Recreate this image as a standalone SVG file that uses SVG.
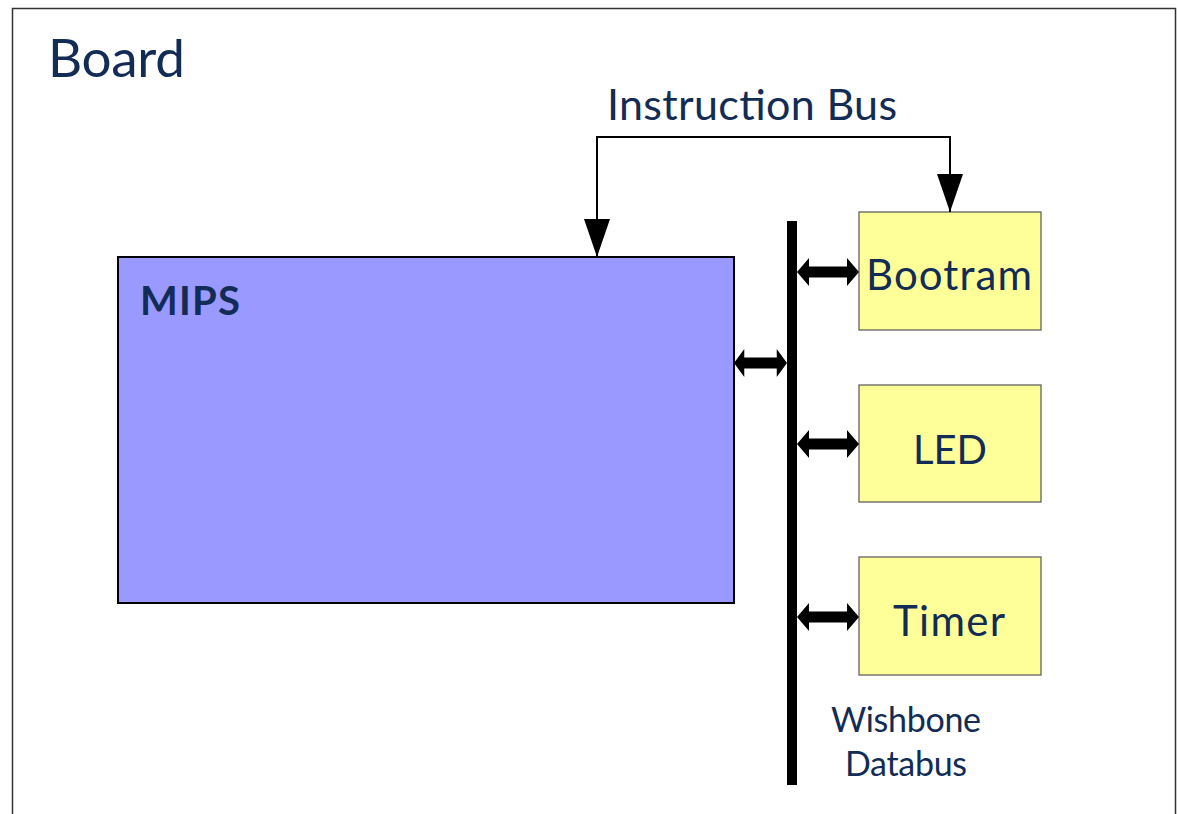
<svg xmlns="http://www.w3.org/2000/svg" width="1178" height="814" viewBox="0 0 1178 814">
  <style>
    .lbl { font-family: Lato, "Open Sans", "Liberation Sans", sans-serif; fill: #122c55; }
    .dev { fill: #ffff99; stroke: #555555; stroke-width: 1.2; }
    .bus { fill: #000000; }
    .wire { fill: none; stroke: #000000; stroke-width: 2; }
  </style>
  <defs>
    <!-- solid triangular head, drawn along +x so orient=auto lines it up -->
    <marker id="tip" viewBox="0 0 38 26" refX="38" refY="13" markerWidth="38" markerHeight="26" markerUnits="userSpaceOnUse" orient="auto-start-reverse">
      <path d="M0,0 L38,13 L0,26 Z" fill="#000000"/>
    </marker>
    <!-- double-headed block arrow, 62 wide, centred on y=0 -->
    <path id="dbl" d="M0,0 L12,-14 L12,-5.5 L50,-5.5 L50,-14 L62,0 L50,14 L50,5.5 L12,5.5 L12,14 Z"/>
  </defs>

  <!-- board outline -->
  <path d="M12.5,814 L12.5,8.5 L1175.5,8.5 L1175.5,814" fill="none" stroke="#333333" stroke-width="1.5"/>
  <text class="lbl" x="48" y="77" font-size="53" textLength="137">Board</text>

  <g id="mips">
    <rect x="118" y="257" width="616" height="346" fill="#9999ff" stroke="#000000" stroke-width="2"/>
    <text class="lbl" x="140" y="315" font-size="40" font-weight="bold" textLength="100">MIPS</text>
  </g>

  <g id="bootram">
    <rect class="dev" x="859" y="212" width="182" height="118"/>
    <text class="lbl" x="866" y="290" font-size="42" textLength="166">Bootram</text>
  </g>

  <g id="led">
    <rect class="dev" x="859" y="385" width="182" height="117"/>
    <text class="lbl" x="950" y="464" font-size="40" text-anchor="middle">LED</text>
  </g>

  <g id="timer">
    <rect class="dev" x="859" y="557" width="182" height="118"/>
    <text class="lbl" x="893" y="636" font-size="42" textLength="112">Timer</text>
  </g>

  <g id="wishbone">
    <rect class="bus" x="787" y="221" width="10" height="564"/>
    <text class="lbl" x="831" y="732" font-size="34" textLength="150">Wishbone</text>
    <text class="lbl" x="845" y="776" font-size="34" textLength="122">Databus</text>
  </g>

  <g id="connectors">
    <path class="wire" d="M597,257 L597,137 L950,137 L950,212" marker-start="url(#tip)" marker-end="url(#tip)"/>
    <text class="lbl" x="607" y="120" font-size="43" textLength="290">Instruction Bus</text>
    <use href="#dbl" transform="translate(734,363) scale(0.855,1)"/>
    <use href="#dbl" transform="translate(797,272)"/>
    <use href="#dbl" transform="translate(797,444)"/>
    <use href="#dbl" transform="translate(797,617)"/>
  </g>
</svg>
